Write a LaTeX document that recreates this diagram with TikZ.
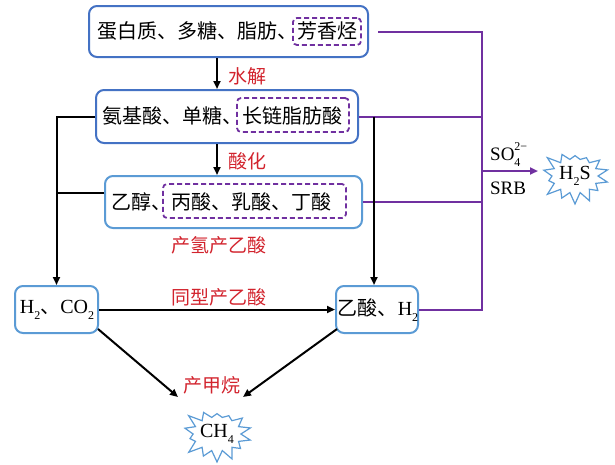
\documentclass[tikz,border=0pt]{standalone}
\usepackage{fontspec}
\setmainfont{Liberation Serif}
\newfontfamily\cjk{Noto Sans CJK SC}
\usetikzlibrary{arrows.meta,shapes.symbols}
\definecolor{dblue}{RGB}{68,114,196}
\definecolor{lblue}{RGB}{91,155,213}
\definecolor{purp}{RGB}{112,48,160}
\definecolor{lab}{RGB}{210,35,45}
\newcommand{\lowidx}[1]{\raisebox{-0.32em}{\fontsize{12}{12}\selectfont #1}}
\newcommand{\highidx}[1]{\raisebox{0.48em}{\fontsize{12}{12}\selectfont #1}}
\begin{document}
\begin{tikzpicture}[x=1pt,y=-1pt,
  box/.style={draw=#1,line width=2pt,rounded corners=8pt,fill=white,inner sep=0pt},
  dbox/.style={draw=purp,line width=1.8pt,dash pattern=on 5pt off 3pt,rounded corners=4pt,inner sep=0pt},
  txt/.style={inner sep=0pt,font=\fontsize{20}{24}\selectfont\cjk},
  rtxt/.style={inner sep=0pt,font=\fontsize{20}{24}\selectfont},
  lbl/.style={inner sep=0pt,text=lab,font=\fontsize{19}{22}\selectfont\cjk},
  conn/.style={line width=2pt,draw=black},
  arr/.style={conn,-{Triangle[length=8pt,width=7pt]}},
  bus/.style={line width=2pt,draw=purp},
  burst/.style={starburst,draw=lblue,line width=1.2pt,fill=white,starburst points=14,starburst point height=13pt,random starburst=23,minimum width=72pt,minimum height=60pt,inner sep=0pt,font=\fontsize{20}{24}\selectfont}
]
\useasboundingbox (0,0) rectangle (615,464);

% boxes
\node[box=dblue,minimum width=279pt,minimum height=51pt] (b1) at (228.5,31.5) {};
\node[box=dblue,minimum width=262pt,minimum height=53pt] (b2) at (227,116.5) {};
\node[box=lblue,minimum width=257pt,minimum height=52pt] (b3) at (233.5,202) {};
\node[box=lblue,minimum width=83pt,minimum height=47pt] (b4) at (56.5,309.5) {};
\node[box=lblue,minimum width=82pt,minimum height=47pt] (b5) at (377,309.5) {};

% dashed groups
\node[dbox,minimum width=68pt,minimum height=27pt] (d1) at (327,31.5) {};
\node[dbox,minimum width=112pt,minimum height=34pt] (d2) at (293,115) {};
\node[dbox,minimum width=183pt,minimum height=34pt] (d3) at (254.5,201) {};

% texts
\node[txt] (t1) at (227,31) {蛋白质、多糖、脂肪、芳香烃};
\node[txt] (t2) at (222.5,116) {氨基酸、单糖、长链脂肪酸};
\node[txt] (t3) at (221.5,202) {乙醇、丙酸、乳酸、丁酸};
\node[rtxt] (t4) at (57,310) {H\lowidx{2}{\cjk 、}CO\lowidx{2}};
\node[txt] (t5) at (378,310) {乙酸、{\rmfamily H\lowidx{2}}};

% products
\node[burst] (ch4) at (217,434) {CH\lowidx{4}};
\node[burst] (h2s) at (575,176) {H\lowidx{2}S};

% helper coordinates
\coordinate (cx) at (217,0);
\coordinate (cr) at (374,0);
\coordinate (bx) at (482,0);
\coordinate (sj) at (482,171);
\coordinate (sa) at (538,171);
\coordinate (e1) at (178,397);
\coordinate (e2) at (243,397);

% purple SRB bus
\draw[bus] ([xshift=9pt]b1.east) -| (b5.east -| bx) -- (b5.east);
\draw[bus] (b2.east) -- (b2.east -| bx);
\draw[bus] (b3.east) -- (b3.east -| bx);
\draw[bus,-{Triangle[length=8pt,width=7pt]}] (sj) -- (sa);

% black connectors
\draw[arr] (b1.south -| cx) -- (b2.north -| cx);
\draw[arr] (b2.south -| cx) -- (b3.north -| cx);
\draw[arr] (b2.west) -| (b4.north);
\draw[conn] ([yshift=9pt]b3.west) -- ([yshift=9pt]b3.west -| b4.north);
\draw[arr] (b2.east -| cr) -- (b5.north -| cr);
\draw[arr] (b4.east) -- (b5.west);
\draw[arr] ([xshift=-1pt,yshift=5pt]b4.south east) -- (e1);
\draw[arr] ([xshift=2pt,yshift=5pt]b5.south west) -- (e2);

% labels
\node[lbl] (l1) at (247,76) {水解};
\node[lbl] (l2) at (247,161) {酸化};
\node[lbl] (l3) at (219,245) {产氢产乙酸};
\node[lbl] (l4) at (219,297) {同型产乙酸};
\node[lbl] (l5) at (212,385) {产甲烷};
\node[rtxt,font=\fontsize{19}{22}\selectfont,anchor=base west] (so) at (490,160) {SO\rlap{\highidx{2−}}\lowidx{4}};
\node[rtxt,font=\fontsize{19}{22}\selectfont] (srb) at (508,188) {SRB};
\end{tikzpicture}
\end{document}
